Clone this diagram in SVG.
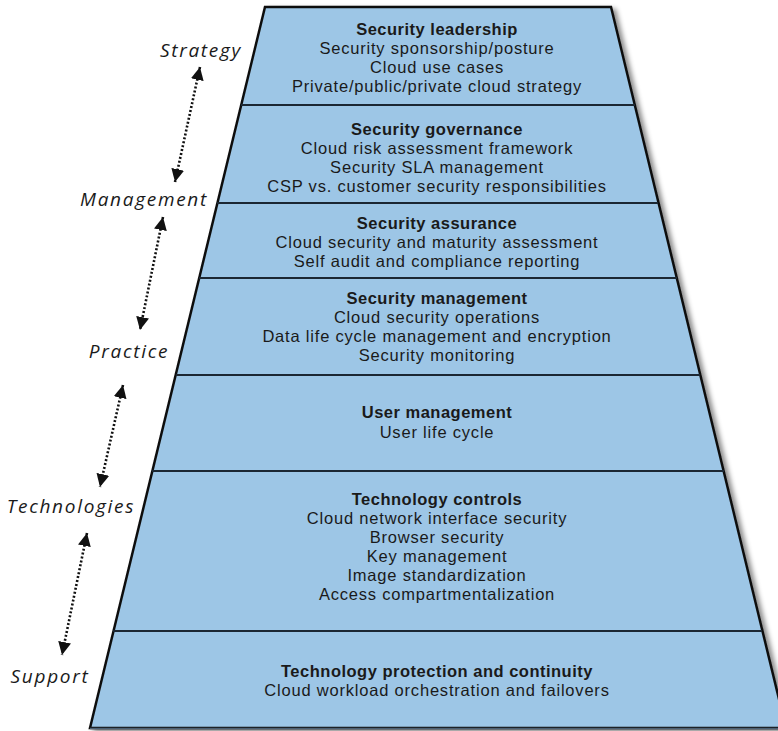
<svg xmlns="http://www.w3.org/2000/svg" width="778" height="731" viewBox="0 0 778 731">
<defs>
<style>
.t{font-family:"Liberation Sans",Arial,sans-serif;font-size:16.5px;letter-spacing:0.8px;fill:#1a1a1a;text-anchor:middle}
.b{font-weight:bold;letter-spacing:0.5px}
.lbl{font-family:"Open Sans","Liberation Sans",sans-serif;font-size:19px;letter-spacing:1.7px;font-style:italic;fill:#1a1a1a;text-anchor:middle}
.div{stroke:#1b2733;stroke-width:2.2}
.arr{stroke:#111;stroke-width:2.6;stroke-dasharray:2 2;fill:none;marker-start:url(#ah);marker-end:url(#ah)}
</style>
<marker id="ah" viewBox="0 0 10 10" refX="10" refY="5" markerWidth="5" markerHeight="5" orient="auto-start-reverse" markerUnits="strokeWidth">
<path d="M0,0 L10,5 L0,10 z" fill="#111"/>
</marker>
<filter id="sh" x="-10%" y="-10%" width="130%" height="130%">
<feDropShadow dx="4" dy="3" stdDeviation="2.5" flood-color="#000" flood-opacity="0.45"/>
</filter>
</defs>
<g id="pyramid">
<polygon points="265,7 611,7 786,728 90,728" fill="#9dc6e6" stroke="#111" stroke-width="2.5" filter="url(#sh)"/>
<line x1="90" y1="728.5" x2="778" y2="728.5" stroke="#4b5f73" stroke-width="1.5"/>
<line class="div" x1="241" y1="105" x2="635" y2="105"/>
<line class="div" x1="217" y1="203" x2="658" y2="203"/>
<line class="div" x1="199" y1="278" x2="677" y2="278"/>
<line class="div" x1="176" y1="375" x2="700" y2="375"/>
<line class="div" x1="152" y1="471" x2="724" y2="471"/>
<line class="div" x1="113" y1="631" x2="762" y2="631"/>
</g>
<g id="layer-leadership">
<text class="t b" x="437" y="35">Security leadership</text>
<text class="t" x="437" y="54">Security sponsorship/posture</text>
<text class="t" x="437" y="73">Cloud use cases</text>
<text class="t" x="437" y="92">Private/public/private cloud strategy</text>
</g>
<g id="layer-governance">
<text class="t b" x="437" y="135">Security governance</text>
<text class="t" x="437" y="154">Cloud risk assessment framework</text>
<text class="t" x="437" y="173">Security SLA management</text>
<text class="t" x="437" y="192">CSP vs. customer security responsibilities</text>
</g>
<g id="layer-assurance">
<text class="t b" x="437" y="229">Security assurance</text>
<text class="t" x="437" y="248">Cloud security and maturity assessment</text>
<text class="t" x="437" y="267">Self audit and compliance reporting</text>
</g>
<g id="layer-management">
<text class="t b" x="437" y="304">Security management</text>
<text class="t" x="437" y="323">Cloud security operations</text>
<text class="t" x="437" y="342">Data life cycle management and encryption</text>
<text class="t" x="437" y="361">Security monitoring</text>
</g>
<g id="layer-user">
<text class="t b" x="437" y="418">User management</text>
<text class="t" x="437" y="438">User life cycle</text>
</g>
<g id="layer-controls">
<text class="t b" x="437" y="505">Technology controls</text>
<text class="t" x="437" y="524">Cloud network interface security</text>
<text class="t" x="437" y="543">Browser security</text>
<text class="t" x="437" y="562">Key management</text>
<text class="t" x="437" y="581">Image standardization</text>
<text class="t" x="437" y="600">Access compartmentalization</text>
</g>
<g id="layer-protection">
<text class="t b" x="437" y="677">Technology protection and continuity</text>
<text class="t" x="437" y="696">Cloud workload orchestration and failovers</text>
</g>
<g id="label-strategy"><text class="lbl" x="201" y="57">Strategy</text></g>
<g id="label-management"><text class="lbl" x="144" y="206">Management</text></g>
<g id="label-practice"><text class="lbl" x="129" y="358">Practice</text></g>
<g id="label-technologies"><text class="lbl" x="71" y="513">Technologies</text></g>
<g id="label-support"><text class="lbl" x="50" y="683">Support</text></g>
<g id="connectors">
<line class="arr" x1="200" y1="67" x2="175" y2="182"/>
<line class="arr" x1="163" y1="217" x2="140" y2="330"/>
<line class="arr" x1="123" y1="385" x2="100" y2="487"/>
<line class="arr" x1="87" y1="533" x2="62" y2="655"/>
</g>
</svg>
